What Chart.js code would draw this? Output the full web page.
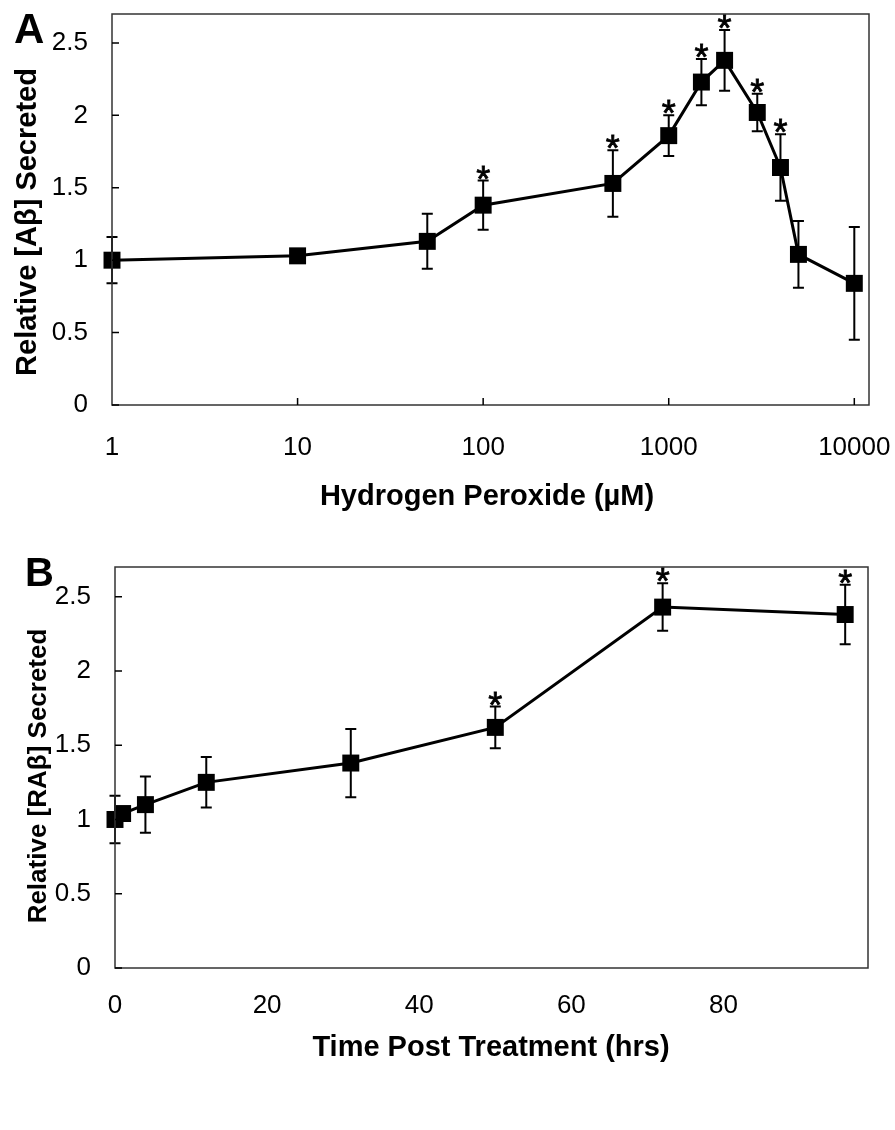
<!DOCTYPE html>
<html>
<head>
<meta charset="utf-8">
<script src="https://cdn.jsdelivr.net/npm/chart.js@4.4.0/dist/chart.umd.min.js"></script>
<style>
html, body { margin: 0; padding: 0; background: #fff; }
#wrapA { position: absolute; left: 0; top: 0; width: 895px; height: 520px; }
#wrapB { position: absolute; left: 0; top: 520px; width: 895px; height: 610px; }
</style>
</head>
<body>
<div id="wrapA"><canvas id="chartA"></canvas></div>
<div id="wrapB"><canvas id="chartB"></canvas></div>
<script>
// panel A - hydrogen peroxide dose response
const doseA = [1, 10, 50, 100, 500, 1000, 1500, 2000, 3000, 4000, 5000, 10000];
const meanA = [1.00, 1.03, 1.13, 1.38, 1.53, 1.86, 2.23, 2.38, 2.02, 1.64, 1.04, 0.84];
const errA  = [0.16, 0.02, 0.19, 0.17, 0.23, 0.14, 0.16, 0.21, 0.13, 0.23, 0.23, 0.39];
const starA = [0, 0, 0, 1, 1, 1, 1, 1, 1, 1, 0, 0];
const xTicksA = [1, 10, 100, 1000, 10000];

// panel B - time course
const timeB = [0, 1, 4, 12, 31, 50, 72, 96];
const meanB = [1.00, 1.04, 1.10, 1.25, 1.38, 1.62, 2.43, 2.38];
const errB  = [0.16, 0.02, 0.19, 0.17, 0.23, 0.14, 0.16, 0.20];
const starB = [0, 0, 0, 0, 0, 1, 1, 1];
const xTicksB = [0, 20, 40, 60, 80];

const yTicks = [0, 0.5, 1, 1.5, 2, 2.5];

const FONT = '"Liberation Sans", Arial, Helvetica, sans-serif';

// error bars, stars, frame, inward ticks, titles
const decor = {
    id: 'decor',
    beforeDatasetsDraw(chart, args, o) {
        const ctx = chart.ctx;
        const x = chart.scales.x, y = chart.scales.y;
        const pts = chart.data.datasets[0].data;
        ctx.save();
        ctx.strokeStyle = '#000';
        ctx.lineWidth = 2;
        pts.forEach((p, i) => {
            const e = o.err[i];
            const px = x.getPixelForValue(p.x);
            const t = y.getPixelForValue(p.y + e);
            const b = y.getPixelForValue(p.y - e);
            ctx.beginPath();
            ctx.moveTo(px, t); ctx.lineTo(px, b);
            ctx.moveTo(px - 5.5, t); ctx.lineTo(px + 5.5, t);
            ctx.moveTo(px - 5.5, b); ctx.lineTo(px + 5.5, b);
            ctx.stroke();
        });
        ctx.restore();
    },
    afterDraw(chart, args, o) {
        const ctx = chart.ctx;
        const a = chart.chartArea;
        const x = chart.scales.x, y = chart.scales.y;
        const pts = chart.data.datasets[0].data;
        ctx.save();
        // frame
        ctx.strokeStyle = '#333';
        ctx.lineWidth = 1.5;
        ctx.strokeRect(a.left, a.top, a.right - a.left, a.bottom - a.top);
        // inward ticks
        ctx.strokeStyle = '#000';
        ctx.lineWidth = 1.5;
        ctx.beginPath();
        yTicks.forEach(v => {
            const py = y.getPixelForValue(v);
            ctx.moveTo(a.left, py); ctx.lineTo(a.left + 7, py);
        });
        if (o.xTickMarks) {
            o.xTickMarks.forEach(v => {
                const px = x.getPixelForValue(v);
                ctx.moveTo(px, a.bottom); ctx.lineTo(px, a.bottom - 7);
            });
        }
        ctx.stroke();
        // significance stars
        ctx.fillStyle = '#000';
        ctx.strokeStyle = '#000';
        ctx.lineWidth = 0.8;
        ctx.textAlign = 'center';
        ctx.textBaseline = 'alphabetic';
        ctx.font = '36px ' + FONT;
        pts.forEach((p, i) => {
            if (!o.star[i]) return;
            const px = x.getPixelForValue(p.x);
            const t = y.getPixelForValue(p.y + o.err[i]);
            ctx.fillText('*', px, t + 11);
            ctx.strokeText('*', px, t + 11);
        });
        // panel letter
        ctx.textAlign = 'left';
        ctx.font = 'bold ' + o.letterSize + 'px ' + FONT;
        ctx.fillText(o.letter, o.letterPos[0], o.letterPos[1]);
        // axis titles
        ctx.textAlign = 'center';
        ctx.textBaseline = 'middle';
        ctx.font = 'bold 29px ' + FONT;
        ctx.fillText(o.xTitle, o.xTitlePos[0], o.xTitlePos[1]);
        ctx.font = 'bold ' + o.yTitleSize + 'px ' + FONT;
        ctx.translate(o.yTitlePos[0], o.yTitlePos[1]);
        ctx.rotate(-Math.PI / 2);
        ctx.fillText(o.yTitle, 0, 0);
        ctx.restore();
    }
};

function makeChart(id, xs, ys, xScale, plotPad, yWidth, xHeight, deco) {
    const pts = xs.map((v, i) => ({ x: v, y: ys[i] }));
    return new Chart(document.getElementById(id), {
        type: 'scatter',
        data: {
            datasets: [{
                data: pts,
                showLine: true,
                borderColor: '#000',
                borderWidth: 3,
                tension: 0,
                pointStyle: 'rect',
                pointRadius: 12,
                pointHoverRadius: 12,
                pointBackgroundColor: '#000',
                pointBorderWidth: 0,
                clip: false
            }]
        },
        options: {
            responsive: true,
            maintainAspectRatio: false,
            animation: false,
            events: [],
            layout: { padding: plotPad },
            plugins: { legend: { display: false }, tooltip: { enabled: false }, decor: deco },
            scales: {
                x: Object.assign({
                    grid: { display: false, drawTicks: false },
                    border: { display: false },
                    afterFit: s => { s.height = xHeight; s.paddingLeft = 0; s.paddingRight = 0; }
                }, xScale),
                y: {
                    min: 0,
                    max: 2.7,
                    grid: { display: false, drawTicks: false },
                    border: { display: false },
                    afterBuildTicks: s => { s.ticks = yTicks.map(v => ({ value: v })); },
                    afterFit: s => { s.width = yWidth; s.paddingTop = 0; s.paddingBottom = 0; },
                    ticks: {
                        color: '#000',
                        padding: 24,
                        font: { family: FONT, size: 26 },
                        callback: v => String(v)
                    }
                }
            }
        },
        plugins: [decor]
    });
}

makeChart('chartA', doseA, meanA, {
    type: 'logarithmic',
    min: 1,
    max: 12000,
    afterBuildTicks: s => { s.ticks = xTicksA.map(v => ({ value: v })); },
    ticks: {
        color: '#000', padding: 27, autoSkip: false, maxRotation: 0,
        font: { family: FONT, size: 26 },
        callback: v => String(v)
    }
}, { top: 14, right: 26, left: 0, bottom: 0 }, 112, 115, {
    err: errA, star: starA, xTickMarks: [10, 100, 1000, 10000],
    letter: 'A', letterSize: 42, letterPos: [14, 43],
    xTitle: 'Hydrogen Peroxide (µM)', xTitlePos: [487, 497],
    yTitle: 'Relative [Aβ] Secreted', yTitleSize: 29, yTitlePos: [28, 222]
});

makeChart('chartB', timeB, meanB, {
    type: 'linear',
    min: 0,
    max: 99,
    afterBuildTicks: s => { s.ticks = xTicksB.map(v => ({ value: v })); },
    ticks: {
        color: '#000', padding: 22, autoSkip: false, maxRotation: 0,
        font: { family: FONT, size: 26 },
        callback: v => String(v)
    }
}, { top: 47, right: 27, left: 0, bottom: 0 }, 115, 162, {
    err: errB, star: starB, xTickMarks: null,
    letter: 'B', letterSize: 40, letterPos: [25, 66],
    xTitle: 'Time Post Treatment (hrs)', xTitlePos: [491, 528],
    yTitle: 'Relative [RAβ] Secreted', yTitleSize: 26, yTitlePos: [39, 256]
});
</script>
</body>
</html>
